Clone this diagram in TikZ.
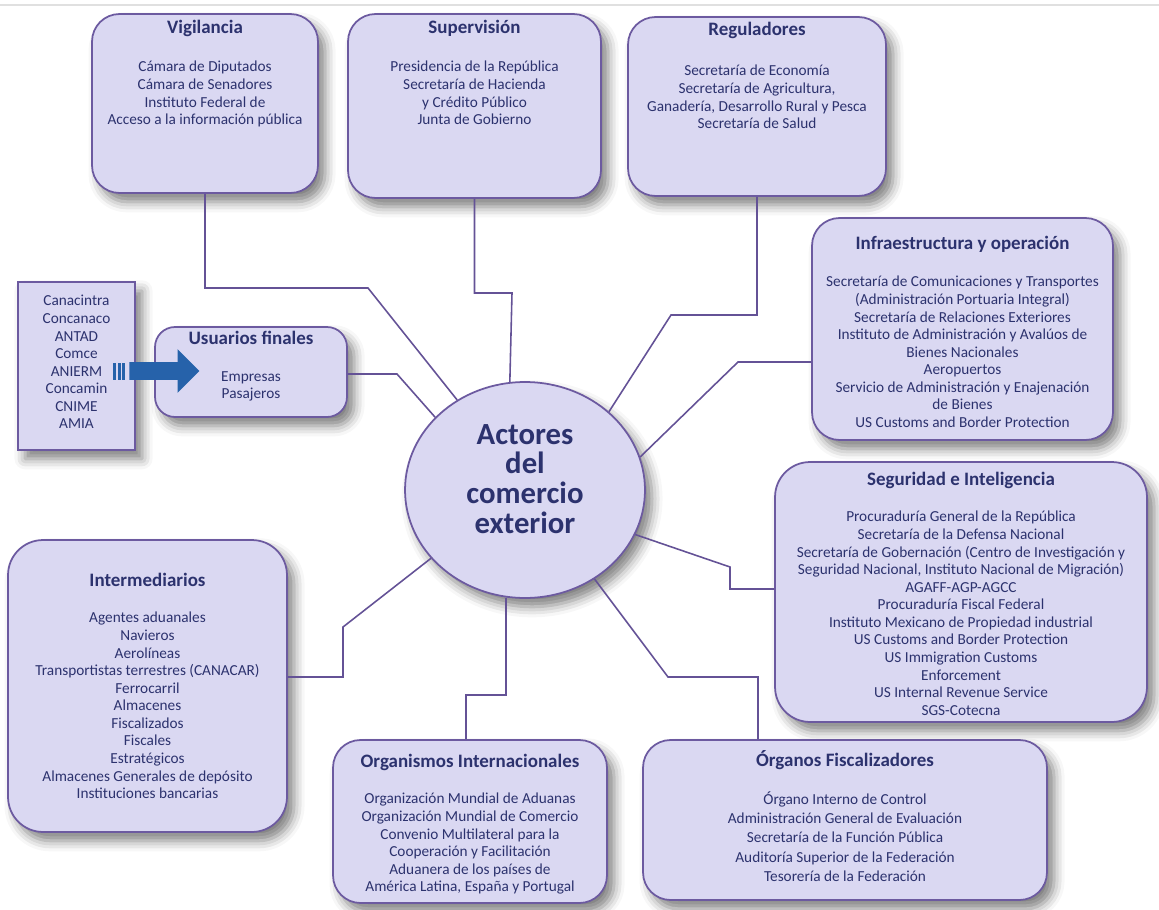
\documentclass[tikz,border=0pt]{standalone}
\usepackage{fontspec}
\setmainfont{Carlito}
\usetikzlibrary{shapes.geometric,shapes.arrows,shadows.blur}
\definecolor{fondocaja}{RGB}{218,216,242}
\definecolor{bordecaja}{RGB}{108,90,160}
\definecolor{textocaja}{RGB}{44,50,110}
\definecolor{lineacon}{RGB}{100,82,150}
\definecolor{azulflecha}{RGB}{38,98,170}
\begin{document}
\begin{tikzpicture}[x=0.02cm,y=-0.02cm]
    \useasboundingbox (0,0) rectangle (1159,909);
    \tikzstyle{caja} = [draw=bordecaja,fill=fondocaja,line width=1pt,rounded corners=0.55cm,blur shadow={shadow xshift=4pt,shadow yshift=-5pt,shadow blur radius=6pt,shadow opacity=50}]
    \tikzstyle{titulocaja} = [text=textocaja,font=\bfseries\fontsize{10.8}{12}\selectfont]
    \tikzstyle{listacaja} = [text=textocaja,font=\fontsize{8.7}{10}\selectfont,align=center,anchor=north,inner sep=0pt]
    \tikzstyle{conector} = [draw=lineacon,line width=0.9pt]
    \draw[black!12,line width=0.6pt] (0,5) -- (1159,5);
    \node[caja,minimum width=4.52cm,minimum height=3.58cm] (vig) at (205,103.5) {};
    \node[caja,minimum width=5.06cm,minimum height=3.68cm] (sup) at (474.5,106) {};
    \node[caja,minimum width=5.16cm,minimum height=3.58cm] (reg) at (757,106.5) {};
    \node[caja,minimum width=6.02cm,minimum height=4.44cm] (inf) at (962.5,329) {};
    \node[caja,rounded corners=0.7cm,minimum width=7.44cm,minimum height=5.2cm] (seg) at (961,592) {};
    \node[caja,minimum width=8.08cm,minimum height=3.2cm] (orgf) at (845,820) {};
    \node[caja,minimum width=5.48cm,minimum height=3.26cm] (oi) at (470,821.5) {};
    \node[caja,rounded corners=0.7cm,minimum width=5.58cm,minimum height=5.84cm] (int) at (147.5,686) {};
    \node[caja,rounded corners=0.4cm,minimum width=3.84cm,minimum height=1.8cm] (usu) at (251,372) {};
    \node[caja,rounded corners=0pt,minimum width=2.34cm,minimum height=3.36cm] (cam) at (76.5,366) {};
    \node[caja,ellipse,minimum width=4.8cm,minimum height=4.32cm] (centro) at (525,490) {};
    \draw[conector] (vig.south) |- (368,288) -- (centro.127);
    \draw[conector] (sup.south) |- (512,293) -- (centro.98);
    \draw[conector] (reg.south) |- (671,315) -- (centro.43);
    \draw[conector] (inf.west |- 0,362) -- (738,362) -- (centro.16);
    \draw[conector] (centro.-22) -- (730,567) |- (seg.west |- 0,589);
    \draw[conector] (centro.-52) -- (668,677) -| (orgf.north -| 758,0);
    \draw[conector] (centro.-100) |- (466,695) -- (oi.north -| 466,0);
    \draw[conector] (centro.-144) -- (343,627) |- (int.east |- 0,677);
    \draw[conector] (usu.east |- 0,374) -- (397,374) -- (centro.141);
    \node[single arrow,fill=azulflecha,minimum height=1.4cm,single arrow head extend=0.26cm,inner sep=0.17cm] (flecha) at (160,371) {};
    \fill[azulflecha] (113,362.5) rectangle (116,379.5);
    \fill[azulflecha] (117.5,362.5) rectangle (120.5,379.5);
    \fill[azulflecha] (122,362.5) rectangle (124.5,379.5);
    \node[text=textocaja,font=\bfseries\fontsize{17.5}{17}\selectfont,align=center] (centroT) at (525,479) {Actores\\del\\comercio\\exterior};
    \node[titulocaja] (vigT) at (205,28) {Vigilancia};
    \node[listacaja] (vigL) at (205,61) {Cámara de Diputados\\Cámara de Senadores\\Instituto Federal de\\Acceso a la información pública};
    \node[titulocaja] (supT) at (474.5,28) {Supervisión};
    \node[listacaja] (supL) at (474.5,61) {Presidencia de la República\\Secretaría de Hacienda\\y Crédito Público\\Junta de Gobierno};
    \node[titulocaja] (regT) at (757,30) {Reguladores};
    \node[listacaja] (regL) at (757,65) {Secretaría de Economía\\Secretaría de Agricultura,\\Ganadería, Desarrollo Rural y Pesca\\Secretaría de Salud};
    \node[titulocaja] (infT) at (962.5,244) {Infraestructura y operación};
    \node[listacaja] (infL) at (962.5,276) {Secretaría de Comunicaciones y Transportes\\(Administración Portuaria Integral)\\Secretaría de Relaciones Exteriores\\Instituto de Administración y Avalúos de\\Bienes Nacionales\\Aeropuertos\\Servicio de Administración y Enajenación\\de Bienes\\US Customs and Border Protection};
    \node[titulocaja] (segT) at (961,480) {Seguridad e Inteligencia};
    \node[listacaja] (segL) at (961,511) {Procuraduría General de la República\\Secretaría de la Defensa Nacional\\Secretaría de Gobernación (Centro de Investigación y\\Seguridad Nacional, Instituto Nacional de Migración)\\AGAFF-AGP-AGCC\\Procuraduría Fiscal Federal\\Instituto Mexicano de Propiedad industrial\\US Customs and Border Protection\\US Immigration Customs\\Enforcement\\US Internal Revenue Service\\SGS-Cotecna};
    \node[titulocaja] (orgfT) at (845,760) {Órganos Fiscalizadores};
    \node[listacaja,font=\fontsize{8.7}{11}\selectfont] (orgfL) at (845,791) {Órgano Interno de Control\\Administración General de Evaluación\\Secretaría de la Función Pública\\Auditoría Superior de la Federación\\Tesorería de la Federación};
    \node[titulocaja] (oiT) at (470,762) {Organismos Internacionales};
    \node[listacaja] (oiL) at (470,793) {Organización Mundial de Aduanas\\Organización Mundial de Comercio\\Convenio Multilateral para la\\Cooperación y Facilitación\\Aduanera de los países de\\América Latina, España y Portugal};
    \node[titulocaja] (intT) at (147.5,580) {Intermediarios};
    \node[listacaja] (intL) at (147.5,612) {Agentes aduanales\\Navieros\\Aerolíneas\\Transportistas terrestres (CANACAR)\\Ferrocarril\\Almacenes\\Fiscalizados\\Fiscales\\Estratégicos\\Almacenes Generales de depósito\\Instituciones bancarias};
    \node[titulocaja] (usuT) at (251,338) {Usuarios finales};
    \node[listacaja] (usuL) at (251,371) {Empresas\\Pasajeros};
    \node[listacaja] (camL) at (76.5,295) {Canacintra\\Concanaco\\ANTAD\\Comce\\ANIERM\\Concamin\\CNIME\\AMIA};
\end{tikzpicture}
\end{document}
